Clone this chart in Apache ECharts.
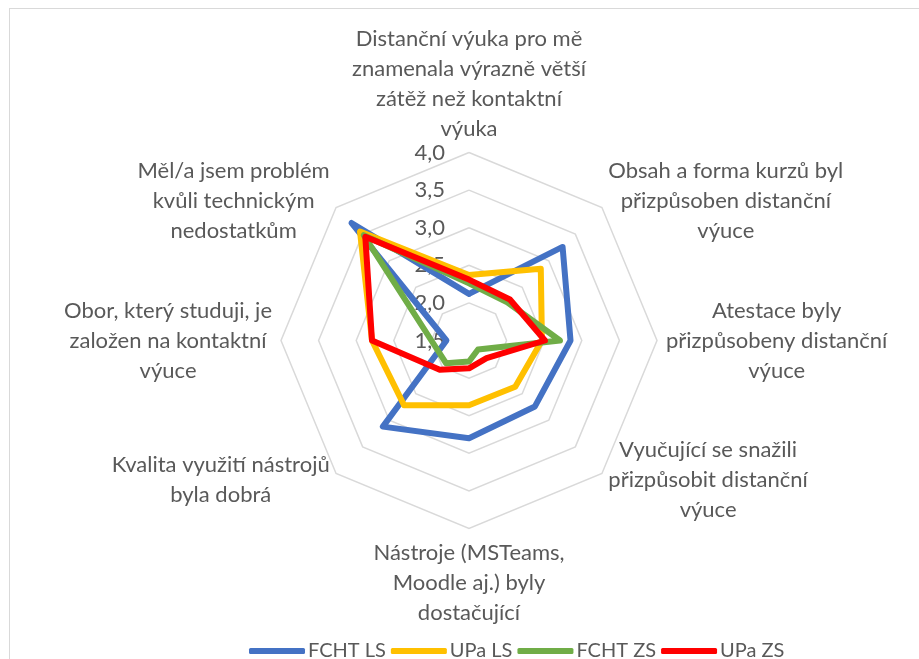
<!DOCTYPE html>
<html>
<head>
<meta charset="utf-8">
<script src="https://cdn.jsdelivr.net/npm/echarts@6/dist/echarts.min.js"></script>
<style>
  html, body { margin: 0; padding: 0; background: #fff; }
  #frame { position: absolute; left: 9px; top: 8px; width: 930px; height: 700px; border: 1.5px solid #d9d9d9; box-sizing: border-box; }
  #chart { position: absolute; left: 0; top: 0; width: 919px; height: 659px; }
</style>
</head>
<body>
<div id="frame"></div>
<div id="chart"></div>
<script>
// Survey statements, clockwise from the top
const categories = [
  'Distanční výuka pro mě\nznamenala výrazně větší\nzátěž než kontaktní\nvýuka',
  'Obsah a forma kurzů byl\npřizpůsoben distanční\nvýuce',
  'Atestace byly\npřizpůsobeny distanční\nvýuce',
  'Vyučující se snažili\npřizpůsobit distanční\nvýuce',
  'Nástroje (MSTeams,\nMoodle aj.) byly\ndostačující',
  'Kvalita využití nástrojů\nbyla dobrá',
  'Obor, který studuji, je\nzaložen na kontaktní\nvýuce',
  'Měl/a jsem problém\nkvůli technickým\nnedostatkům'
];

const seriesNames = ['FCHT LS', 'UPa LS', 'FCHT ZS', 'UPa ZS'];
const fchtLS = [2.12, 3.26, 2.85, 2.74, 2.80, 3.12, 1.80, 3.71];
const upaLS  = [2.37, 2.85, 2.47, 2.37, 2.36, 2.72, 2.79, 3.55];
const fchtZS = [2.26, 2.22, 2.71, 1.67, 1.78, 1.93, 2.00, 3.48];
const upaZS  = [2.31, 2.27, 2.51, 1.83, 1.87, 2.05, 2.79, 3.45];
const colors = ['#4472c4', '#ffc000', '#70ad47', '#ff0000'];

const scaleMin = 1.5, scaleMax = 4.0, scaleStep = 0.5;

// ECharts lays radar indicators out counter-clockwise; reorder so they run clockwise
const order = [0, 7, 6, 5, 4, 3, 2, 1];
const reorder = arr => order.map(i => arr[i]);

const FONT = 'Lato';
const TEXT = '#595959';
const CENTER = [469, 340.5];
const RADIUS = 188;

const chart = echarts.init(document.getElementById('chart'), null, { renderer: 'canvas' });

chart.setOption({
  animation: false,
  backgroundColor: 'transparent',
  textStyle: { fontFamily: FONT },
  legend: {
    data: seriesNames,
    left: 244,
    top: 636,
    itemWidth: 56,
    itemHeight: 6,
    itemGap: 5,
    icon: 'roundRect',
    textStyle: { fontFamily: FONT, fontSize: 20, color: TEXT, padding: [0, 0, 0, -2] }
  },
  radar: {
    center: CENTER,
    radius: RADIUS,
    startAngle: 90,
    splitNumber: (scaleMax - scaleMin) / scaleStep,
    shape: 'polygon',
    indicator: reorder(categories).map(name => ({ name, min: scaleMin, max: scaleMax })),
    nameGap: 9,
    axisName: {
      color: TEXT,
      fontFamily: FONT,
      fontSize: 22,
      lineHeight: 30,
      formatter: name => name.split('\n').map(l => '{c|' + l + '}').join('\n'),
      rich: { c: { align: 'center', color: TEXT, fontFamily: FONT, fontSize: 22, lineHeight: 30 } }
    },
    axisLine: { show: false },
    axisTick: { show: false },
    axisLabel: { show: false },
    splitArea: { show: false },
    splitLine: { lineStyle: { color: '#d9d9d9', width: 1.5 } }
  },
  // polar frame used only to print the value scale along the upper spoke
  polar: { center: CENTER, radius: RADIUS },
  angleAxis: { show: false, startAngle: 90, min: 0, max: 360 },
  radiusAxis: {
    min: scaleMin, max: scaleMax, interval: scaleStep,
    axisLine: { show: false },
    axisTick: { show: false },
    splitLine: { show: false },
    z: 0,
    axisLabel: {
      margin: 24,
      color: TEXT,
      fontFamily: FONT,
      fontSize: 22,
      formatter: v => v.toFixed(1).replace('.', ',')
    }
  },
  series: [{
    type: 'radar',
    z: 3,
    symbol: 'none',
    data: [fchtLS, upaLS, fchtZS, upaZS].map((vals, k) => ({
      name: seriesNames[k],
      value: reorder(vals),
      itemStyle: { color: colors[k] },
      lineStyle: { color: colors[k], width: 6, join: 'round', cap: 'round' },
      z: k
    }))
  }]
});
</script>
</body>
</html>
